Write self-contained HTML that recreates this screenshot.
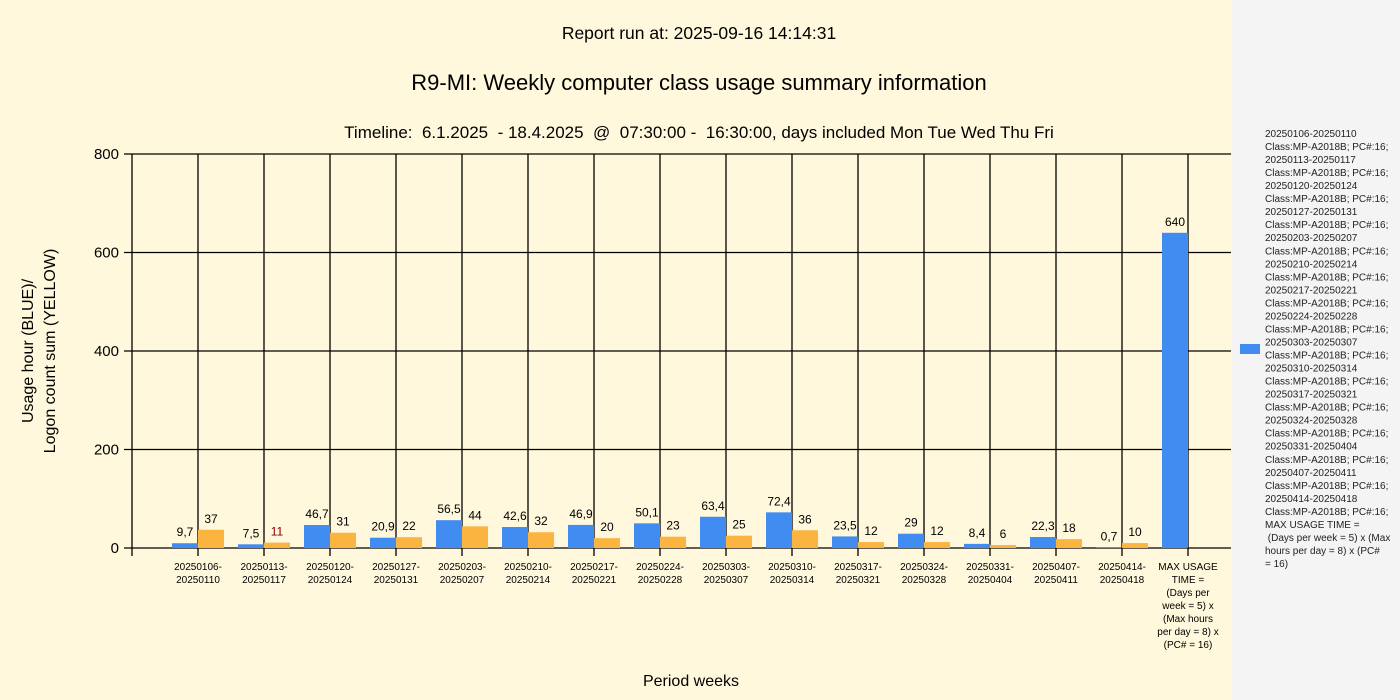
<!DOCTYPE html>
<html><head><meta charset="utf-8"><style>
body{margin:0;width:1400px;height:700px;overflow:hidden;background:#fff8dc;font-family:"Liberation Sans",sans-serif}
svg{position:absolute;left:0;top:0}
.pre{white-space:pre}
</style></head><body>
<svg id="c" width="1400" height="700" xmlns="http://www.w3.org/2000/svg">
<rect x="1232" y="0" width="168" height="700" fill="#f4f4f4"/>
<text x="699" y="39" text-anchor="middle" font-size="17.5">Report run at: 2025-09-16 14:14:31</text>
<text x="699" y="90" text-anchor="middle" font-size="22">R9-MI: Weekly computer class usage summary information</text>
<text class="pre" x="699" y="138" text-anchor="middle" font-size="17">Timeline:  6.1.2025  - 18.4.2025  @  07:30:00 -  16:30:00, days included Mon Tue Wed Thu Fri</text>
<text x="691" y="686" text-anchor="middle" font-size="16">Period weeks</text>
<text transform="translate(33,351) rotate(-90)" text-anchor="middle" font-size="16"><tspan x="0" dy="0">Usage hour (BLUE)/</tspan><tspan x="0" dy="22">Logon count sum (YELLOW)</tspan></text>
<g id="grid"></g><g id="bars"></g><g id="legend"></g>
</svg>
<script>
const categories=["20250106-|20250110","20250113-|20250117","20250120-|20250124","20250127-|20250131","20250203-|20250207","20250210-|20250214","20250217-|20250221","20250224-|20250228","20250303-|20250307","20250310-|20250314","20250317-|20250321","20250324-|20250328","20250331-|20250404","20250407-|20250411","20250414-|20250418","MAX USAGE|TIME =|(Days per|week = 5) x|(Max hours|per day = 8) x|(PC# = 16)"];
const usageHours=[9.7,7.5,46.7,20.9,56.5,42.6,46.9,50.1,63.4,72.4,23.5,29,8.4,22.3,0.7,640];
const logonCounts=[37,11,31,22,44,32,20,23,25,36,12,12,6,18,10,null];
const usageLabels=["9,7","7,5","46,7","20,9","56,5","42,6","46,9","50,1","63,4","72,4","23,5","29","8,4","22,3","0,7","640"];
const yTicks=[0,200,400,600,800];
const NS="http://www.w3.org/2000/svg";
const L=132,R=1231,T=154,B=548,yMax=800;
const y=v=>B-(v/yMax)*(B-T);
const xc=i=>L+66*(i+1);
function mk(tag,attrs,parent,txt){const e=document.createElementNS(NS,tag);for(const k in attrs)e.setAttribute(k,attrs[k]);if(txt!==undefined)e.textContent=txt;parent.appendChild(e);return e;}
const g=document.getElementById('grid'),b=document.getElementById('bars'),lg=document.getElementById('legend');
yTicks.forEach(t=>{const ln=mk('line',{x1:L-8,x2:R,y1:y(t),y2:y(t),stroke:'#000','stroke-width':1.3},g);


const tx=mk('text',{x:L-13,y:y(t)+5,'text-anchor':'end','font-size':15},g,String(t));

});
const ax=mk('line',{x1:L,x2:L,y1:T,y2:B+8,stroke:'#000','stroke-width':1.3},g);


categories.forEach((c,i)=>{const x=xc(i);
const gl=mk('line',{x1:x,x2:x,y1:T,y2:B+8,stroke:'#000','stroke-width':1.3},g);


const tx=mk('text',{x:x,y:B+22,'text-anchor':'middle','font-size':10},g);


c.split('|').forEach((p,j)=>mk('tspan',{x:x,dy:j?13:0},tx,p));
const bv=usageHours[i];
const r1=mk('rect',{x:x-26,y:y(bv),width:26,height:B-y(bv),fill:'#418cf0'},b);


const l1=mk('text',{x:x-13,y:y(bv)-7,'text-anchor':'middle','font-size':12},b,usageLabels[i]);


const lv=logonCounts[i];
if(lv!==null){const r2=mk('rect',{x:x,y:y(lv),width:26,height:B-y(lv),fill:'#fcb441'},b);


const l2=mk('text',{x:x+13,y:y(lv)-7,'text-anchor':'middle','font-size':12,fill:lv===11?'#800000':'#000'},b,String(lv));

}
});
const lines=[];
categories.slice(0,15).forEach(c=>{lines.push(c.replace('|',''));lines.push('Class:MP-A2018B; PC#:16;');});
lines.push('MAX USAGE TIME =',' (Days per week = 5) x (Max','hours per day = 8) x (PC#','= 16)');
const sw=mk('rect',{x:1240,y:344,width:20,height:10,fill:'#418cf0'},lg);


const lt=mk('text',{x:1265,y:137,'font-size':10,fill:'#222'},lg);


lt.setAttribute('class','pre');
lines.forEach((s,j)=>mk('tspan',{x:1265,dy:j?13.03:0},lt,s));
</script>
</body></html>
